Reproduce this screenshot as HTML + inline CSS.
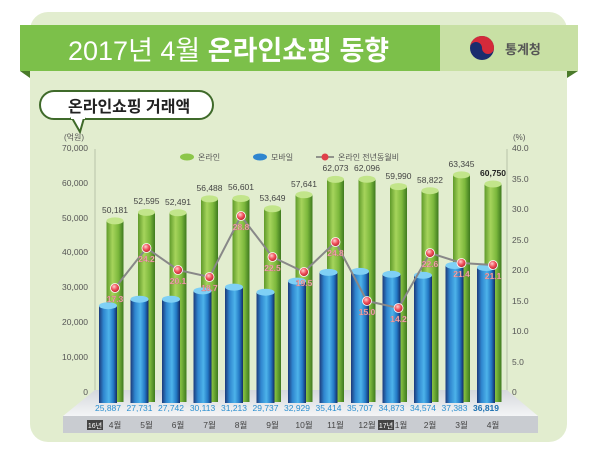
<!DOCTYPE html>
<html><head><meta charset="utf-8"><style>
html,body{margin:0;padding:0;background:#fff;}
svg{display:block;font-family:"Liberation Sans","Noto Sans CJK KR",sans-serif;}
</style></head><body>
<svg width="600" height="452" viewBox="0 0 600 452" xmlns="http://www.w3.org/2000/svg">
<defs>
<linearGradient id="gg" x1="0" x2="1" y1="0" y2="0">
<stop offset="0" stop-color="#5f9a2a"/><stop offset="0.35" stop-color="#a6d45c"/><stop offset="0.7" stop-color="#7cb83c"/><stop offset="1" stop-color="#3e7a1e"/></linearGradient>
<linearGradient id="bg" x1="0" x2="1" y1="0" y2="0">
<stop offset="0" stop-color="#1c3a7a"/><stop offset="0.25" stop-color="#2f86cf"/><stop offset="0.55" stop-color="#4db3ea"/><stop offset="0.8" stop-color="#2378c4"/><stop offset="1" stop-color="#142c66"/></linearGradient>
<linearGradient id="plat" x1="0" x2="0" y1="0" y2="1">
<stop offset="0" stop-color="#d5d8dc"/><stop offset="1" stop-color="#f4f5f6"/></linearGradient>
<radialGradient id="rd" cx="0.4" cy="0.35" r="0.7"><stop offset="0" stop-color="#ffd0d0"/><stop offset="0.5" stop-color="#f0505a"/><stop offset="1" stop-color="#b01e2a"/></radialGradient>
</defs>
<rect x="30" y="12" width="537" height="430" rx="18" fill="#e2edcf"/>
<rect x="20" y="25" width="558" height="46" fill="#c8e0a4"/>
<rect x="20" y="25" width="420" height="46" fill="#7cc04a"/>
<polygon points="20,71 30,71 30,78" fill="#4a7a2a"/>
<polygon points="578,71 567,71 567,78" fill="#4a7a2a"/>
<text x="68" y="60" font-size="27" fill="#fff">2017년 4월 <tspan font-weight="bold">온라인쇼핑 동향</tspan></text>
<circle cx="482" cy="48" r="12" fill="#1a2d6e"/>
<path d="M470,48 a12,12 0 0 1 24,0 a6,6 0 0 1 -12,0 a6,6 0 0 0 -12,0z" fill="#d42a3a"/>
<text x="505" y="54" font-size="13" font-weight="bold" fill="#555">통계청</text>
<rect x="40" y="91" width="173" height="28" rx="14" fill="#fff" stroke="#3f6a2a" stroke-width="2"/>
<polygon points="72,118 84,118 80,132" fill="#fff" stroke="#3f6a2a" stroke-width="2"/>
<rect x="71" y="114" width="14" height="5" fill="#fff"/>
<text x="68" y="112" font-size="16" font-weight="bold" fill="#222">온라인쇼핑 거래액</text>
<g font-size="8" fill="#555">
<text x="64" y="140">(억원)</text><text x="513" y="140">(%)</text>
<ellipse cx="187" cy="157" rx="7" ry="3.5" fill="#8cc64a"/><text x="198" y="160">온라인</text>
<ellipse cx="260" cy="157" rx="7" ry="3.5" fill="#2f86cf"/><text x="271" y="160">모바일</text>
<line x1="316" y1="157" x2="334" y2="157" stroke="#777" stroke-width="1.5"/><circle cx="325" cy="157" r="3.5" fill="#e0404a"/><text x="338" y="160">온라인 전년동월비</text>
</g>
<g font-size="8.5" fill="#555" text-anchor="end">
<text x="88" y="151">70,000</text><text x="88" y="186">60,000</text><text x="88" y="221">50,000</text><text x="88" y="255">40,000</text><text x="88" y="290">30,000</text><text x="88" y="325">20,000</text><text x="88" y="360">10,000</text><text x="88" y="395">0</text>
</g>
<g font-size="8.5" fill="#555">
<text x="512" y="151">40.0</text><text x="512" y="182">35.0</text><text x="512" y="212">30.0</text><text x="512" y="243">25.0</text><text x="512" y="273">20.0</text><text x="512" y="304">15.0</text><text x="512" y="334">10.0</text><text x="512" y="365">5.0</text><text x="512" y="395">0</text>
</g>
<line x1="95" y1="149" x2="95" y2="392" stroke="#b8c4a8"/><line x1="507" y1="149" x2="507" y2="392" stroke="#b8c4a8"/>
<polygon points="95,390 507,390 538,416 63,416" fill="url(#plat)"/>
<rect x="63" y="416" width="475" height="17" fill="#c9ccd1"/>
<g>
<rect x="106.5" y="220.9" width="17" height="181.1" fill="url(#gg)"/><ellipse cx="115" cy="220.9" rx="8.5" ry="3.5" fill="#c2e58a"/>
<rect x="138" y="212.4" width="17" height="189.6" fill="url(#gg)"/><ellipse cx="146.5" cy="212.4" rx="8.5" ry="3.5" fill="#c2e58a"/>
<rect x="169.5" y="212.8" width="17" height="189.2" fill="url(#gg)"/><ellipse cx="178" cy="212.8" rx="8.5" ry="3.5" fill="#c2e58a"/>
<rect x="201" y="198.9" width="17" height="203.1" fill="url(#gg)"/><ellipse cx="209.5" cy="198.9" rx="8.5" ry="3.5" fill="#c2e58a"/>
<rect x="232.5" y="198.5" width="17" height="203.5" fill="url(#gg)"/><ellipse cx="241" cy="198.5" rx="8.5" ry="3.5" fill="#c2e58a"/>
<rect x="264" y="208.8" width="17" height="193.2" fill="url(#gg)"/><ellipse cx="272.5" cy="208.8" rx="8.5" ry="3.5" fill="#c2e58a"/>
<rect x="295.5" y="194.8" width="17" height="207.2" fill="url(#gg)"/><ellipse cx="304" cy="194.8" rx="8.5" ry="3.5" fill="#c2e58a"/>
<rect x="327" y="179.4" width="17" height="222.6" fill="url(#gg)"/><ellipse cx="335.5" cy="179.4" rx="8.5" ry="3.5" fill="#c2e58a"/>
<rect x="358.5" y="179.3" width="17" height="222.7" fill="url(#gg)"/><ellipse cx="367" cy="179.3" rx="8.5" ry="3.5" fill="#c2e58a"/>
<rect x="390" y="186.6" width="17" height="215.4" fill="url(#gg)"/><ellipse cx="398.5" cy="186.6" rx="8.5" ry="3.5" fill="#c2e58a"/>
<rect x="421.5" y="190.7" width="17" height="211.3" fill="url(#gg)"/><ellipse cx="430" cy="190.7" rx="8.5" ry="3.5" fill="#c2e58a"/>
<rect x="453" y="174.9" width="17" height="227.1" fill="url(#gg)"/><ellipse cx="461.5" cy="174.9" rx="8.5" ry="3.5" fill="#c2e58a"/>
<rect x="484.5" y="184" width="17" height="218" fill="url(#gg)"/><ellipse cx="493" cy="184" rx="8.5" ry="3.5" fill="#c2e58a"/>
</g>
<g>
<rect x="99" y="305.7" width="18" height="97.3" fill="url(#bg)"/><ellipse cx="108" cy="305.7" rx="9" ry="3.5" fill="#7fd0f5"/>
<rect x="130.5" y="299.2" width="18" height="103.8" fill="url(#bg)"/><ellipse cx="139.5" cy="299.2" rx="9" ry="3.5" fill="#7fd0f5"/>
<rect x="162" y="299.2" width="18" height="103.8" fill="url(#bg)"/><ellipse cx="171" cy="299.2" rx="9" ry="3.5" fill="#7fd0f5"/>
<rect x="193.5" y="290.9" width="18" height="112.1" fill="url(#bg)"/><ellipse cx="202.5" cy="290.9" rx="9" ry="3.5" fill="#7fd0f5"/>
<rect x="225" y="287.1" width="18" height="115.9" fill="url(#bg)"/><ellipse cx="234" cy="287.1" rx="9" ry="3.5" fill="#7fd0f5"/>
<rect x="256.5" y="292.2" width="18" height="110.8" fill="url(#bg)"/><ellipse cx="265.5" cy="292.2" rx="9" ry="3.5" fill="#7fd0f5"/>
<rect x="288" y="281.1" width="18" height="121.9" fill="url(#bg)"/><ellipse cx="297" cy="281.1" rx="9" ry="3.5" fill="#7fd0f5"/>
<rect x="319.5" y="272.4" width="18" height="130.6" fill="url(#bg)"/><ellipse cx="328.5" cy="272.4" rx="9" ry="3.5" fill="#7fd0f5"/>
<rect x="351" y="271.4" width="18" height="131.6" fill="url(#bg)"/><ellipse cx="360" cy="271.4" rx="9" ry="3.5" fill="#7fd0f5"/>
<rect x="382.5" y="274.3" width="18" height="128.7" fill="url(#bg)"/><ellipse cx="391.5" cy="274.3" rx="9" ry="3.5" fill="#7fd0f5"/>
<rect x="414" y="275.3" width="18" height="127.7" fill="url(#bg)"/><ellipse cx="423" cy="275.3" rx="9" ry="3.5" fill="#7fd0f5"/>
<rect x="445.5" y="265.5" width="18" height="137.5" fill="url(#bg)"/><ellipse cx="454.5" cy="265.5" rx="9" ry="3.5" fill="#7fd0f5"/>
<rect x="477" y="267.5" width="18" height="135.5" fill="url(#bg)"/><ellipse cx="486" cy="267.5" rx="9" ry="3.5" fill="#7fd0f5"/>
</g>
<g font-size="8.5" fill="#444" text-anchor="middle">
<text x="115" y="213">50,181</text><text x="146.5" y="204">52,595</text><text x="178" y="205">52,491</text><text x="209.5" y="191">56,488</text><text x="241" y="190">56,601</text><text x="272.5" y="201">53,649</text><text x="304" y="187">57,641</text><text x="335.5" y="171">62,073</text><text x="367" y="171">62,096</text><text x="398.5" y="179">59,990</text><text x="430" y="183">58,822</text><text x="461.5" y="167">63,345</text><text x="493" y="176" font-weight="bold" fill="#222">60,750</text>
</g>
<g font-size="8.5" fill="#2a8fd0" text-anchor="middle">
<text x="108" y="411">25,887</text><text x="139.5" y="411">27,731</text><text x="171" y="411">27,742</text><text x="202.5" y="411">30,113</text><text x="234" y="411">31,213</text><text x="265.5" y="411">29,737</text><text x="297" y="411">32,929</text><text x="328.5" y="411">35,414</text><text x="360" y="411">35,707</text><text x="391.5" y="411">34,873</text><text x="423" y="411">34,574</text><text x="454.5" y="411">37,383</text><text x="486" y="411" font-weight="bold" fill="#1a6fb0">36,819</text>
</g>
<g font-size="8.5" fill="#444" text-anchor="middle">
<text x="115" y="428">4월</text><text x="146.5" y="428">5월</text><text x="178" y="428">6월</text><text x="209.5" y="428">7월</text><text x="241" y="428">8월</text><text x="272.5" y="428">9월</text><text x="304" y="428">10월</text><text x="335.5" y="428">11월</text><text x="367" y="428">12월</text><text x="401" y="428">1월</text><text x="430" y="428">2월</text><text x="461.5" y="428">3월</text><text x="493" y="428">4월</text>
<rect x="87" y="420" width="16" height="10" fill="#444"/><text x="95" y="428" fill="#fff" font-size="7">16년</text>
<rect x="378" y="420" width="16" height="10" fill="#444"/><text x="386" y="428" fill="#fff" font-size="7">17년</text>
</g>
<polyline fill="none" stroke="#888" stroke-width="2" points="115,288 146.5,248 178,270 209.5,277 241,216 272.5,257 304,272 335.5,242 367,301 398.5,308 430,253 461.5,263 493,265"/>
<g fill="url(#rd)" stroke="#fff" stroke-width="0.8">
<circle cx="115" cy="288" r="4.5"/><circle cx="146.5" cy="248" r="4.5"/><circle cx="178" cy="270" r="4.5"/><circle cx="209.5" cy="277" r="4.5"/><circle cx="241" cy="216" r="4.5"/><circle cx="272.5" cy="257" r="4.5"/><circle cx="304" cy="272" r="4.5"/><circle cx="335.5" cy="242" r="4.5"/><circle cx="367" cy="301" r="4.5"/><circle cx="398.5" cy="308" r="4.5"/><circle cx="430" cy="253" r="4.5"/><circle cx="461.5" cy="263" r="4.5"/><circle cx="493" cy="265" r="4.5"/>
</g>
<g font-size="8.5" font-weight="bold" fill="#f3b8b8" stroke="#c06070" stroke-width="0.3" text-anchor="middle">
<text x="115" y="302">17.3</text><text x="146.5" y="262">24.2</text><text x="178" y="284">20.1</text><text x="209.5" y="291">18.7</text><text x="241" y="230">28.8</text><text x="272.5" y="271">22.5</text><text x="304" y="286">19.5</text><text x="335.5" y="256">24.8</text><text x="367" y="315">15.0</text><text x="398.5" y="322">14.2</text><text x="430" y="267">22.6</text><text x="461.5" y="277">21.4</text><text x="493" y="279">21.1</text>
</g>
</svg>
</body></html>
